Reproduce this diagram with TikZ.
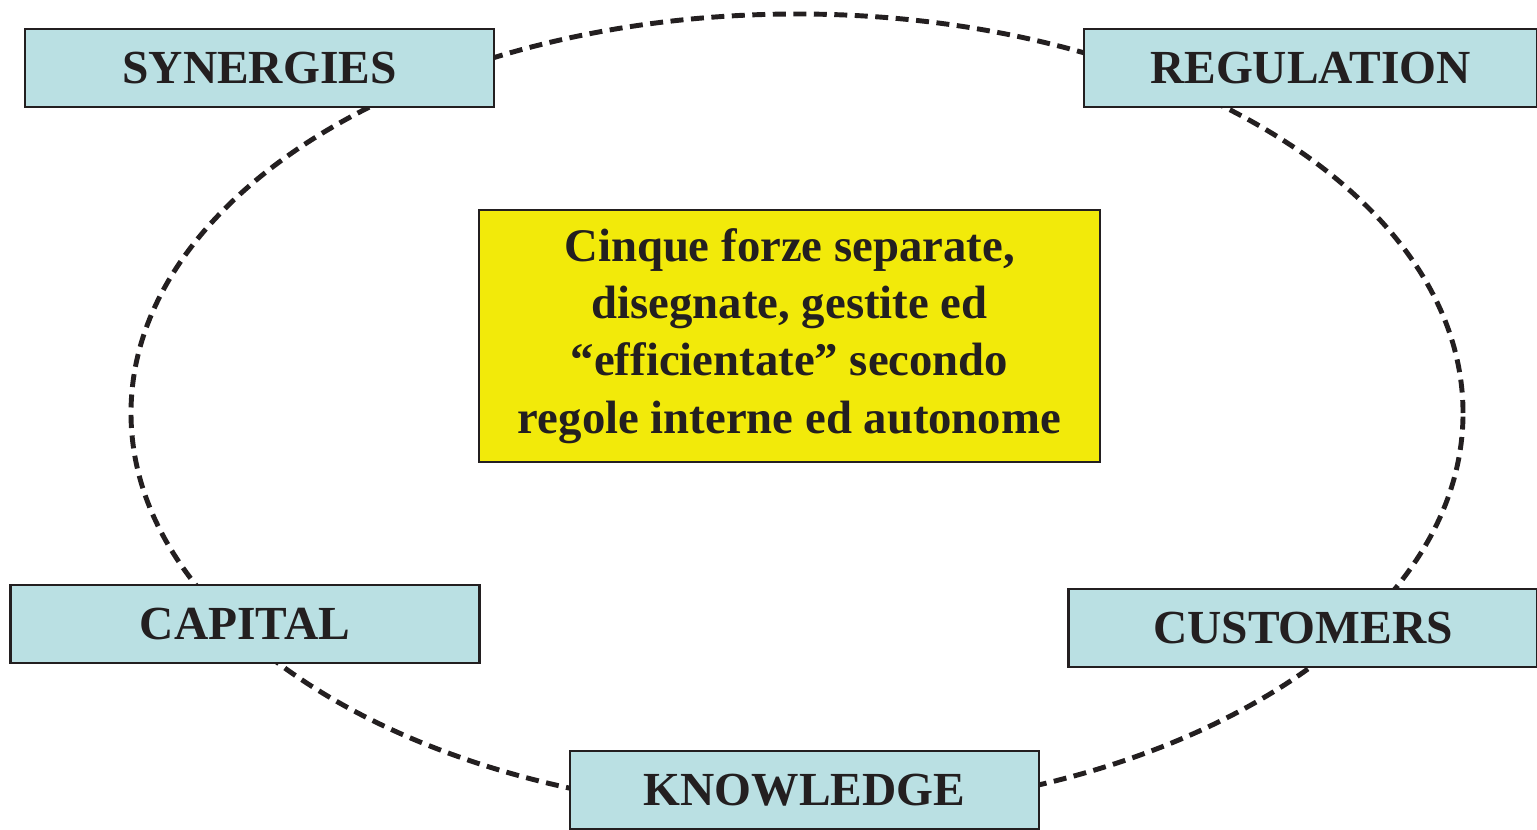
\documentclass[tikz,border=0pt]{standalone}
\usepackage{fontspec}
\setmainfont{Liberation Serif}
\usepackage{xcolor}
\usetikzlibrary{positioning}
\definecolor{boxblue}{HTML}{BAE0E3}
\definecolor{boxyellow}{HTML}{F2EA0A}
\definecolor{boxline}{HTML}{231F20}

\begin{document}
\begin{tikzpicture}[
every node/.style={font=\bfseries, text=boxline},
box/.style={draw=boxline, line width=0.7pt, fill=boxblue, align=center, minimum width=4.69cm, minimum height=0.78cm, inner sep=0pt, font=\fontsize{13.5}{16}\selectfont\bfseries},
core/.style={draw=boxline, line width=0.7pt, fill=boxyellow, align=center, minimum width=6.21cm, minimum height=2.52cm, inner sep=0pt, font=\fontsize{13.3}{16.3}\selectfont\bfseries},
ring/.style={draw=boxline, line width=1.4pt, dash pattern=on 0.13cm off 0.075cm}
]
\useasboundingbox (0,0) rectangle (15.37,-8.29);
% cycle behind the five forces
\draw[ring] (7.97,-4.13) ellipse (6.66cm and 3.99cm);
\node[box] (syn) at (2.595,-0.68) {SYNERGIES};
\node[box, minimum width=4.53cm] (reg) at (13.105,-0.68) {REGULATION};
\node[box] (cap) at (2.45,-6.24) {CAPITAL};
\node[box] (cust) at (13.03,-6.28) {CUSTOMERS};
\node[box] (know) at (8.045,-7.90) {KNOWLEDGE};
\node[core] (forze) at (7.895,-3.36) {Cinque forze separate,\\disegnate, gestite ed\\``efficientate'' secondo\\regole interne ed autonome};
\end{tikzpicture}
\end{document}
